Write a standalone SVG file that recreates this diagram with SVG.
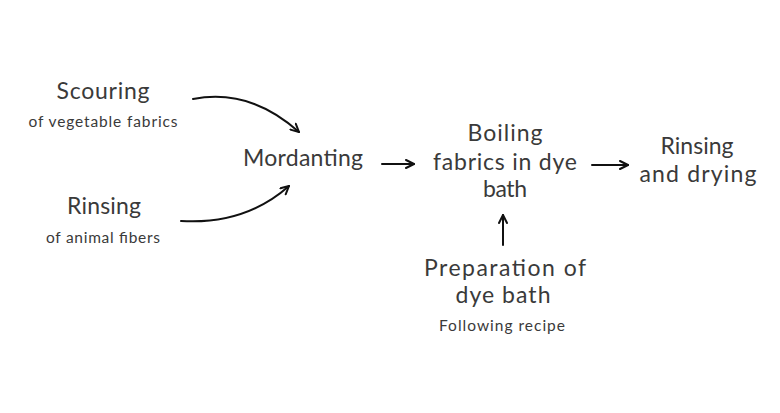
<svg xmlns="http://www.w3.org/2000/svg" width="780" height="413" viewBox="0 0 780 413">
<defs>
<style>
.t{font-family:Lato,"Open Sans","Liberation Sans",sans-serif;fill:#3a3a3a;text-anchor:middle}
.big{font-size:23px}
.small{font-size:15.5px}
.c{fill:none;stroke:#111;stroke-width:2;stroke-linecap:round}
</style>
<marker id="ah" viewBox="0 0 10 10" refX="9" refY="5" markerWidth="10" markerHeight="10" markerUnits="userSpaceOnUse" orient="auto">
<polyline points="1,1 9,5 1,9" fill="none" stroke="#111" stroke-width="2" stroke-linecap="round" stroke-linejoin="round"/>
</marker>
</defs>
<rect width="780" height="413" fill="#fff"/>
<g id="scouring">
<text class="t big" x="103" y="99" textLength="93" lengthAdjust="spacing">Scouring</text>
<text class="t small" x="103" y="127" textLength="149" lengthAdjust="spacing">of vegetable fabrics</text>
</g>
<g id="rinsing1">
<text class="t big" x="104" y="214" textLength="74" lengthAdjust="spacing">Rinsing</text>
<text class="t small" x="103" y="243" textLength="114" lengthAdjust="spacing">of animal fibers</text>
</g>
<g id="mordanting">
<text class="t big" x="303" y="166" textLength="120" lengthAdjust="spacing">Mordanting</text>
</g>
<g id="boiling">
<text class="t big" x="505" y="141" textLength="75" lengthAdjust="spacing">Boiling</text>
<text class="t big" x="505" y="170" textLength="144" lengthAdjust="spacing">fabrics in dye</text>
<text class="t big" x="505" y="197" textLength="44" lengthAdjust="spacing">bath</text>
</g>
<g id="rinsing2">
<text class="t big" x="697" y="154" textLength="73" lengthAdjust="spacing">Rinsing</text>
<text class="t big" x="698" y="182" textLength="117" lengthAdjust="spacing">and drying</text>
</g>
<g id="preparation">
<text class="t big" x="505" y="276" textLength="162" lengthAdjust="spacing">Preparation of</text>
<text class="t big" x="503" y="303" textLength="95" lengthAdjust="spacing">dye bath</text>
<text class="t small" x="502" y="331" textLength="126" lengthAdjust="spacing">Following recipe</text>
</g>
<g id="connectors">
<path class="c" d="M193,99 Q250,88 299,132" marker-end="url(#ah)"/>
<path class="c" d="M181,221 Q245,225 289,186" marker-end="url(#ah)"/>
<path class="c" d="M382,164 L414,164" marker-end="url(#ah)"/>
<path class="c" d="M592,165 L628,165" marker-end="url(#ah)"/>
<path class="c" d="M503,245 L503,215" marker-end="url(#ah)"/>
</g>
</svg>
